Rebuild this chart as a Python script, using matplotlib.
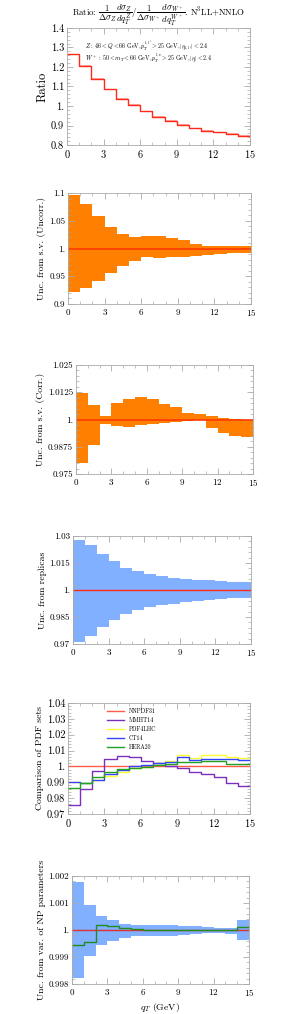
import numpy as np
import matplotlib
matplotlib.use("Agg")
import matplotlib.pyplot as plt
from matplotlib.ticker import MultipleLocator, AutoMinorLocator, FixedLocator, FixedFormatter

plt.rcParams['font.family'] = 'serif'
plt.rcParams['font.serif'] = ['cmr10', 'DejaVu Serif']
plt.rcParams['mathtext.fontset'] = 'cm'
plt.rcParams['axes.formatter.use_mathtext'] = True

edges = np.arange(0, 16, 1)

ratio = [1.265, 1.205, 1.14, 1.085, 1.037, 1.005, 0.972, 0.945, 0.923, 0.902,
         0.885, 0.872, 0.865, 0.855, 0.848]

uncorr_up = [1.096, 1.081, 1.059, 1.039, 1.027, 1.020, 1.023, 1.022, 1.019, 1.015,
             1.009, 1.005, 1.005, 1.005, 1.005]
uncorr_lo = [0.921, 0.929, 0.942, 0.956, 0.968, 0.978, 0.984, 0.982, 0.984, 0.985,
             0.987, 0.989, 0.990, 0.991, 0.991]

corr_up = [1.012, 1.0067, 1.0018, 1.0074, 1.0096, 1.0102, 1.0093, 1.0071, 1.0056, 1.0031,
           1.0024, 1.0018, 1.0005, 1.0001, 1.0]
corr_lo = [0.9799, 0.9883, 0.9978, 0.9970, 0.9967, 0.9973, 0.9978, 0.9982, 0.9989, 0.9993,
           0.9998, 0.9959, 0.9940, 0.9924, 0.9918]

rep_up = [1.028, 1.0248, 1.0202, 1.016, 1.0125, 1.0104, 1.0088, 1.0077, 1.0067, 1.0062,
          1.0056, 1.0053, 1.0049, 1.0045, 1.0042]
rep_lo = [0.9713, 0.9746, 0.9792, 0.9834, 0.9866, 0.9888, 0.9903, 0.9916, 0.9925, 0.9933,
          0.994, 0.9946, 0.9949, 0.9953, 0.9955]

pdf_names = ["NNPDF31", "MMHT14", "PDF4LHC", "CT14", "HERA20"]
nnpdf31 = [1.0] * 15
mmht14 = [0.9757, 0.9858, 0.9970, 1.0050, 1.0065, 1.0059, 1.0034, 1.0019, 1.0002, 0.9987,
          0.9968, 0.9955, 0.9932, 0.9896, 0.9875]
pdf4lhc = [0.9903, 0.9898, 0.9917, 0.9942, 0.9964, 0.9990, 0.9997, 1.0019, 1.0034, 1.0070,
           1.0055, 1.0070, 1.0070, 1.0059, 1.0053]
ct14 = [0.9899, 0.9895, 0.9914, 0.9952, 0.9977, 1.0, 1.0006, 1.0021, 1.0027, 1.0059,
        1.0040, 1.0050, 1.0050, 1.0046, 1.0040]
hera20 = [0.9867, 0.9895, 0.9931, 0.9964, 0.9985, 0.9992, 0.9996, 1.0011, 1.0015, 1.0025,
          1.0027, 1.0036, 1.0032, 1.0015, 1.0015]
pdf_colors = ["#FF5A4A", "#7B2FBF", "#FFFF33", "#3344FF", "#22A022"]

np_up = [1.00177, 1.00093, 1.00052, 1.00038, 1.00023, 1.00017, 1.0002, 1.0002, 1.00018, 1.00015,
         1.00013, 1.00012, 1.00009, 1.00009, 1.00038]
np_lo = [0.99822, 0.99905, 0.99945, 0.9996, 0.99972, 0.99976, 0.99976, 0.99978, 0.99978, 0.99982,
         0.99985, 0.99988, 0.99988, 0.99986, 0.99964]
np_central = [0.99945, 0.99955, 1.00017, 1.00013, 1.00007, 1.00003, 1.0, 1.0, 1.0, 1.0,
              1.0, 1.0, 1.0, 1.0, 1.0001]

fig = plt.figure(figsize=(2.91, 10.14), dpi=100)
W, H = 291.0, 1014.0

def make_ax(l, r, t, b):
    return fig.add_axes([l / W, 1 - b / H, (r - l) / W, (b - t) / H])

frame_col = "#AAAAAA"

def step(ax, vals, **kw):
    v = list(vals) + [vals[-1]]
    return ax.step(edges, v, where='post', **kw)

def band(ax, up, lo, color):
    ax.fill_between(edges, list(lo) + [lo[-1]], list(up) + [up[-1]], step='post',
                    color=color, lw=0)

def style(ax, ylim, yticks, ylabels, ylab, tfs=6.5, lfs=7):
    ax.set_xlim(0, 15)
    ax.set_ylim(*ylim)
    ax.xaxis.set_major_locator(MultipleLocator(3))
    ax.xaxis.set_minor_locator(MultipleLocator(1))
    ax.yaxis.set_major_locator(FixedLocator(yticks))
    ax.yaxis.set_major_formatter(FixedFormatter(ylabels))
    ax.yaxis.set_minor_locator(AutoMinorLocator(5))
    ax.tick_params(which='both', direction='in', top=True, right=True,
                   color=frame_col, labelsize=tfs, pad=2)
    ax.tick_params(which='major', length=4, width=0.6)
    ax.tick_params(which='minor', length=2, width=0.5)
    for s in ax.spines.values():
        s.set_color(frame_col)
        s.set_linewidth(0.6)
    ax.set_ylabel(ylab, fontsize=lfs, labelpad=2)

# Panel 1
ax1 = make_ax(67, 250, 28, 145)
band(ax1, np.array(ratio) + 0.004, np.array(ratio) - 0.004, "#FFB0A8")
step(ax1, ratio, color="#FF2A1A", lw=1.0)
style(ax1, (0.8, 1.4), [0.8, 0.9, 1.0, 1.1, 1.2, 1.3, 1.4],
      ["0.8", "0.9", "1.", "1.1", "1.2", "1.3", "1.4"], "Ratio", tfs=7.5, lfs=9)
ax1.set_title(r"Ratio: $\dfrac{1}{\Delta\sigma_Z}\dfrac{d\sigma_Z}{dq_T^Z}/\dfrac{1}{\Delta\sigma_{W^+}}\dfrac{d\sigma_{W^+}}{dq_T^{W^+}}$. N$^3$LL+NNLO",
              fontsize=6.3, pad=3)
ax1.text(0.10, 0.85,
         r"$Z\,:\,46<Q<66\ \mathrm{GeV}, p_T^{l,l'}>25\ \mathrm{GeV}, |\eta_{l,l'}|<2.4$",
         transform=ax1.transAxes, fontsize=4.3, va='center')
ax1.text(0.10, 0.745,
         r"$W^+\,:\,50<m_T<66\ \mathrm{GeV}, p_T^{l,\nu}>25\ \mathrm{GeV}, |\eta|<2.4$",
         transform=ax1.transAxes, fontsize=4.3, va='center')

# Panel 2
ax2 = make_ax(68, 251, 193, 304)
band(ax2, uncorr_up, uncorr_lo, "#FF8000")
step(ax2, nnpdf31, color="#FF3A00", lw=1.2)
style(ax2, (0.9, 1.1), [0.9, 0.95, 1.0, 1.05, 1.1],
      ["0.9", "0.95", "1.", "1.05", "1.1"], "Unc. from s.v. (Uncorr.)")

# Panel 3
ax3 = make_ax(76, 253, 365, 474)
band(ax3, corr_up, corr_lo, "#FF8000")
step(ax3, nnpdf31, color="#FF3A00", lw=1.2)
style(ax3, (0.975, 1.025), [0.975, 0.9875, 1.0, 1.0125, 1.025],
      ["0.975", "0.9875", "1.", "1.0125", "1.025"], "Unc. from s.v. (Corr.)")

# Panel 4
ax4 = make_ax(73, 251, 536, 644)
band(ax4, rep_up, rep_lo, "#80B0FF")
step(ax4, nnpdf31, color="#FF2A1A", lw=1.0)
style(ax4, (0.97, 1.03), [0.97, 0.985, 1.0, 1.015, 1.03],
      ["0.97", "0.985", "1.", "1.015", "1.03"], "Unc. from replicas")

# Panel 5
ax5 = make_ax(68, 250, 703, 814)
for vals, name, col in zip([nnpdf31, mmht14, pdf4lhc, ct14, hera20], pdf_names, pdf_colors):
    step(ax5, vals, color=col, lw=1.0, label=name)
style(ax5, (0.97, 1.04), [0.97, 0.98, 0.99, 1.0, 1.01, 1.02, 1.03, 1.04],
      ["0.97", "0.98", "0.99", "1.", "1.01", "1.02", "1.03", "1.04"],
      "Comparison of PDF sets", tfs=7.5)
leg = ax5.legend(loc="upper left", bbox_to_anchor=(0.2, 0.975), fontsize=4.2,
                 frameon=False, handlelength=3.0, handletextpad=0.8, labelspacing=0.55,
                 borderaxespad=0.0)

# Panel 6
ax6 = make_ax(72, 249, 876, 984)
band(ax6, np_up, np_lo, "#80B0FF")
step(ax6, nnpdf31, color="#E03030", lw=1.0)
step(ax6, np_central, color="#228B22", lw=1.0)
style(ax6, (0.998, 1.002), [0.998, 0.999, 1.0, 1.001, 1.002],
      ["0.998", "0.999", "1.", "1.001", "1.002"], "Unc. from var. of NP parameters")
ax6.set_xlabel(r"$q_T$ (GeV)", fontsize=7, labelpad=2)

fig.savefig("out.png", dpi=100)
